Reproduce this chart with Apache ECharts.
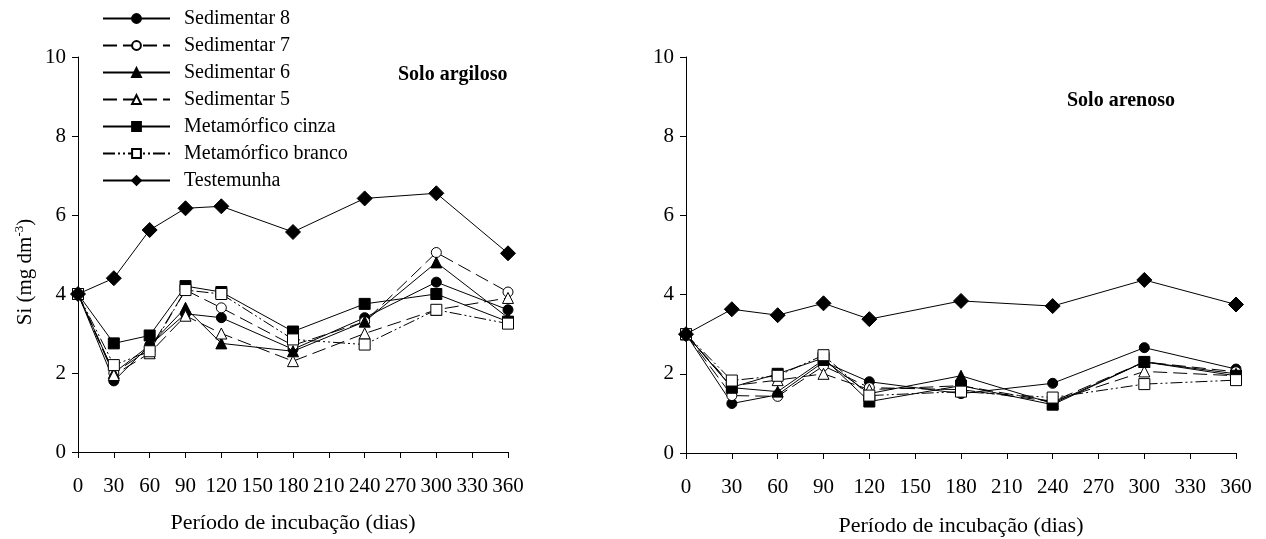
<!DOCTYPE html>
<html>
<head>
<meta charset="utf-8">
<script src="https://cdn.jsdelivr.net/npm/echarts@6/dist/echarts.min.js"></script>
<style>
html,body{margin:0;padding:0;background:#fff;}
#c{width:1266px;height:539px;}
</style>
</head>
<body>
<div id="c"></div>
<script>
const days = [0, 30, 60, 90, 120, 180, 240, 300, 360];
const xTicks = [0, 30, 60, 90, 120, 150, 180, 210, 240, 270, 300, 330, 360];
const yTicks = [0, 2, 4, 6, 8, 10];
const seriesNames = ['Sedimentar 8', 'Sedimentar 7', 'Sedimentar 6', 'Sedimentar 5', 'Metamórfico cinza', 'Metamórfico branco', 'Testemunha'];
const panelTitles = ['Solo argiloso', 'Solo arenoso'];

// Solo argiloso (left)
const argSed8 = [4.0, 1.8, 2.7, 3.5, 3.4, 2.6, 3.4, 4.3, 3.6];
const argSed7 = [4.0, 2.0, 2.6, 4.1, 3.65, 2.7, 3.3, 5.05, 4.05];
const argSed6 = [4.0, 2.0, 2.7, 3.65, 2.75, 2.55, 3.3, 4.8, 3.4];
const argSed5 = [4.0, 1.95, 2.5, 3.45, 3.0, 2.3, 3.0, 3.6, 3.9];
const argMetCinza = [4.0, 2.75, 2.95, 4.2, 4.05, 3.05, 3.75, 4.0, 3.3];
const argMetBranco = [4.0, 2.2, 2.55, 4.1, 4.0, 2.85, 2.72, 3.6, 3.25];
const argTest = [4.0, 4.4, 5.62, 6.17, 6.22, 5.57, 6.42, 6.55, 5.03];

// Solo arenoso (right)
const areSed8 = [3.0, 1.25, 1.47, 2.3, 1.8, 1.5, 1.76, 2.66, 2.12];
const areSed7 = [3.0, 1.45, 1.43, 2.2, 1.65, 1.6, 1.3, 2.3, 2.05];
const areSed6 = [3.0, 1.65, 1.55, 2.35, 1.5, 1.95, 1.25, 2.3, 2.0];
const areSed5 = [3.0, 1.7, 1.84, 2.0, 1.6, 1.7, 1.3, 2.06, 1.95];
const areMetCinza = [3.0, 1.66, 2.0, 2.4, 1.3, 1.7, 1.22, 2.3, 1.95];
const areMetBranco = [3.0, 1.83, 1.95, 2.47, 1.45, 1.55, 1.4, 1.74, 1.84];
const areTest = [3.0, 3.63, 3.48, 3.78, 3.38, 3.84, 3.71, 4.37, 3.75];

const argData = [argSed8, argSed7, argSed6, argSed5, argMetCinza, argMetBranco, argTest];
const areData = [areSed8, areSed7, areSed6, areSed5, areMetCinza, areMetBranco, areTest];

const FONT = '"Liberation Serif", "DejaVu Serif", serif';
const styles = [
  {symbol: 'circle', symbolSize: 10, fill: '#000', type: 'solid'},
  {symbol: 'circle', symbolSize: 10, fill: '#fff', type: [14, 6]},
  {symbol: 'triangle', symbolSize: 11, fill: '#000', type: 'solid'},
  {symbol: 'triangle', symbolSize: 11, fill: '#fff', type: [14, 6]},
  {symbol: 'rect', symbolSize: 11, fill: '#000', type: 'solid'},
  {symbol: 'rect', symbolSize: 11, fill: '#fff', type: [12, 3, 2, 3, 2, 3]},
  {symbol: 'diamond', symbolSize: 15, fill: '#000', type: 'solid'}
];

function makeSeries(dataSets, idx) {
  return dataSets.map((vals, i) => ({
    name: seriesNames[i],
    type: 'line',
    xAxisIndex: idx,
    yAxisIndex: idx,
    data: days.map((d, k) => [d, vals[k]]),
    symbol: styles[i].symbol,
    symbolSize: styles[i].symbolSize,
    showAllSymbol: true,
    lineStyle: {color: '#000', width: 1, type: styles[i].type},
    itemStyle: {color: styles[i].fill, borderColor: '#000', borderWidth: 1},
    emphasis: {disabled: true},
    z: i === 6 ? 3 : 2
  }));
}

function xAxis(idx) {
  return {
    type: 'value', gridIndex: idx, min: 0, max: 360, interval: 30,
    name: 'Período de incubação (dias)', nameLocation: 'middle', nameGap: idx === 0 ? 60 : 62,
    nameTextStyle: {fontFamily: FONT, fontSize: 22, color: '#000'},
    axisLine: {show: true, lineStyle: {color: '#000', width: 1}},
    axisTick: {show: true, length: 6, inside: false, lineStyle: {color: '#000'}},
    axisLabel: {fontFamily: FONT, fontSize: 21, color: '#000', margin: 24,
      formatter: v => xTicks.includes(v) ? String(v) : ''},
    splitLine: {show: false}
  };
}
function yAxis(idx) {
  return {
    type: 'value', gridIndex: idx, min: 0, max: 10, interval: 2,
    axisLine: {show: true, lineStyle: {color: '#000', width: 1}},
    axisTick: {show: true, length: 6, lineStyle: {color: '#000'}},
    axisLabel: {fontFamily: FONT, fontSize: 21, color: '#000', margin: 12,
      formatter: v => yTicks.includes(v) ? String(v) : ''},
    splitLine: {show: false}
  };
}

const chart = echarts.init(document.getElementById('c'), null, {renderer: 'canvas'});
chart.setOption({
  animation: false,
  backgroundColor: '#fff',
  grid: [
    {left: 78, right: 758, top: 57, bottom: 87, containLabel: false, outerBoundsMode: 'none'},
    {left: 686, right: 30, top: 57, bottom: 86, containLabel: false, outerBoundsMode: 'none'}
  ],
  xAxis: [xAxis(0), xAxis(1)],
  yAxis: [yAxis(0), yAxis(1)],
  legend: {
    orient: 'vertical', left: 97, top: 3, itemGap: 6, itemWidth: 67, itemHeight: 11,
    textStyle: {fontFamily: FONT, fontSize: 20, lineHeight: 21, color: '#000', padding: [0, 0, 0, 9]},
    data: seriesNames,
    selectedMode: false
  },
  title: [
    {text: panelTitles[0], left: 393, top: 60, textStyle: {fontFamily: FONT, fontSize: 20, fontWeight: 'bold', color: '#000'}},
    {text: panelTitles[1], left: 1062, top: 86, textStyle: {fontFamily: FONT, fontSize: 20, fontWeight: 'bold', color: '#000'}}
  ],
  graphic: [{
    type: 'text', x: 25, y: 272, rotation: Math.PI / 2,
    style: {
      text: '{a|Si (mg dm}{s|-3}{a|)}',
      align: 'center', verticalAlign: 'middle',
      rich: {
        a: {fontFamily: FONT, fontSize: 21, fill: '#000'},
        s: {fontFamily: FONT, fontSize: 13, fill: '#000', verticalAlign: 'top', padding: [0, 0, 10, 0]}
      }
    }
  }],
  series: makeSeries(argData, 0).concat(makeSeries(areData, 1))
});
</script>
</body>
</html>
